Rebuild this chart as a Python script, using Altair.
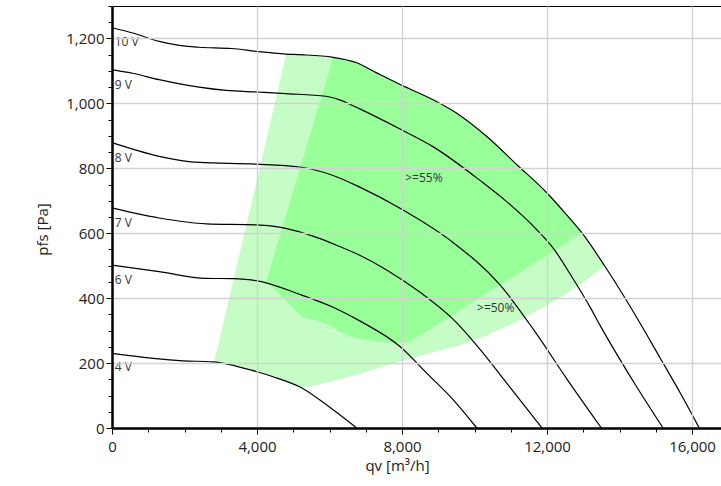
import altair as alt
import pandas as pd

# ---------------- data ----------------
curve_names = ["10 V", "9 V", "8 V", "7 V", "6 V", "4 V"]

q10 = [0, 600, 1300, 1900, 2400, 3300, 4000, 4800, 5200, 6100, 6750, 7300, 7950,
       8860, 9600, 10340, 11170, 12000, 12500, 12970, 13570, 14220, 15140, 15700, 16200]
p10 = [1233, 1216, 1191, 1178, 1173, 1169, 1160, 1152, 1150, 1142, 1125, 1094, 1058,
       1011, 963, 898, 811, 724, 662, 600, 503, 388, 212, 103, 0]

q9 = [0, 600, 1300, 2400, 3150, 4000, 4800, 5900, 6280, 6835, 7945, 8865, 10160,
      10805, 11725, 12185, 12650, 13200, 13480, 14400, 15200]
p9 = [1104, 1092, 1073, 1050, 1040, 1035, 1030, 1022, 1011, 983, 921, 866, 762,
      705, 610, 552, 472, 370, 313, 140, 0]

q8 = [0, 1300, 2410, 3975, 5175, 6100, 6835, 7945, 9330, 10710, 11635, 12555, 13500]
p8 = [879, 837, 818, 813, 804, 778, 742, 677, 578, 440, 302, 150, 0]

q7 = [0, 1300, 2600, 3975, 4620, 5700, 6280, 6835, 7575, 8500, 9400, 10220, 10710, 11030, 11860]
p7 = [678, 647, 629, 626, 619, 585, 559, 532, 487, 418, 336, 233, 164, 118, 0]

q6 = [0, 1300, 2590, 3330, 3975, 5175, 6100, 6835, 7945, 8680, 9420, 10065]
p6 = [502, 482, 461, 460, 454, 412, 372, 330, 251, 169, 86, 0]

q4 = [0, 1950, 2775, 3975, 4440, 5175, 6100, 6750]
p4 = [230, 207, 204, 174, 158, 127, 56, 0]

# efficiency zone >=50 % (light) : flow, lower and upper pressure edge
light_q = [2823, 3300, 3800, 4300, 4805, 5200, 5600, 6100, 6750, 7300, 7950, 8860,
           9600, 10340, 11170, 12000, 12500, 12970, 13600]
light_lo = [205, 196, 183, 163, 143, 124, 131, 145, 163, 183, 205, 233,
            255, 285, 328, 378, 411, 447, 498]
light_hi = [205, 432, 670, 907, 1152, 1150, 1146, 1142, 1125, 1094, 1058, 1011,
            963, 898, 811, 724, 662, 600, 498]

# efficiency zone >=55 % (dark)
dark_q = [4255, 4805, 5267, 5730, 6100, 6560, 6750, 7300, 7950, 8200, 8860, 9600,
          10340, 11170, 12000, 12500, 12950]
dark_lo = [451, 391, 340, 330, 309, 282, 277, 266, 262, 264, 310, 363,
           415, 473, 532, 567, 600]
dark_hi = [451, 657, 830, 1003, 1142, 1131, 1125, 1094, 1058, 1045, 1011, 963,
           898, 811, 724, 662, 600]

# curve labels
label_q = [75, 75, 75, 75, 75, 75]
label_p = [1189, 1058, 833, 632, 455, 187]

# zone labels
zone_text = [">=55%", ">=50%"]
zone_q = [8090, 10070]
zone_p = [769, 369]

x_ticks = [0, 4000, 8000, 12000, 16000]
y_ticks = [0, 200, 400, 600, 800, 1000, 1200]
x_minor_ticks = [1000, 2000, 3000, 5000, 6000, 7000, 9000, 10000, 11000, 13000, 14000, 15000]
y_minor_ticks = [v for v in range(50, 1301, 50) if v % 200 != 0]

# ---------------- tables ----------------
rows = []
for name, qs, ps in zip(curve_names, [q10, q9, q8, q7, q6, q4], [p10, p9, p8, p7, p6, p4]):
    for a, b in zip(qs, ps):
        rows.append({"curve": name, "qv": a, "pfs": b})
curves_df = pd.DataFrame(rows)
light_df = pd.DataFrame({"qv": light_q, "lo": light_lo, "hi": light_hi})
dark_df = pd.DataFrame({"qv": dark_q, "lo": dark_lo, "hi": dark_hi})
labels_df = pd.DataFrame({"txt": curve_names, "qv": label_q, "pfs": label_p})
zones_df = pd.DataFrame({"txt": zone_text, "qv": zone_q, "pfs": zone_p})

FONT = "Open Sans"
TXT = "#222222"
W, H = 609, 422
xs = alt.Scale(domain=[0, 16800], nice=False, zero=False)
ys = alt.Scale(domain=[0, 1300], nice=False, zero=False)

x_main = alt.Axis(orient="bottom", values=x_ticks, format=",d", tickSize=6, tickColor="black",
                  tickWidth=1, domainColor="black", domainWidth=2.5, grid=True,
                  gridColor="#d2d2d2", gridWidth=1.3, labelFont=FONT, labelFontSize=15,
                  labelColor=TXT, labelPadding=5, title="qv [m³/h]", titleFont=FONT,
                  titleFontSize=15, titleFontWeight="normal", titleColor=TXT, titleX=285,
                  titleY=30, titleBaseline="top", zindex=1, labelFlush=False,
                  labelOverlap=False)
x_minor = alt.Axis(orient="bottom", values=x_minor_ticks, tickSize=4, tickColor="black",
                   tickWidth=1, labels=False, domain=False, grid=False, title=None)
x_top = alt.Axis(orient="top", domainColor="black", domainWidth=1, ticks=False,
                 labels=False, grid=False, title=None)

y_main = alt.Axis(orient="left", values=y_ticks, format=",d", tickSize=6, tickColor="black",
                  tickWidth=1, domainColor="black", domainWidth=2.5, grid=True,
                  gridColor="#d2d2d2", gridWidth=1.3, labelFont=FONT, labelFontSize=15,
                  labelColor=TXT, labelPadding=2, title="pfs [Pa]", titleFont=FONT,
                  titleFontSize=15, titleFontWeight="normal", titleColor=TXT, titleX=-62,
                  titleY=223, titleAngle=270, titleBaseline="bottom", zindex=1,
                  labelFlush=False, labelOverlap=False)
y_minor = alt.Axis(orient="left", values=y_minor_ticks, tickSize=4, tickColor="black",
                   tickWidth=1, labels=False, domain=False, grid=False, title=None)

light = alt.Chart(light_df).mark_area(color="#c6fdc6", opacity=1).encode(
    x=alt.X("qv:Q", scale=xs, axis=x_main),
    y=alt.Y("lo:Q", scale=ys, axis=y_main),
    y2="hi:Q",
)
dark = alt.Chart(dark_df).mark_area(color="#99ff99", opacity=1).encode(
    x=alt.X("qv:Q", scale=xs, axis=x_minor),
    y=alt.Y("lo:Q", scale=ys, axis=y_minor),
    y2="hi:Q",
)
lines = alt.Chart(curves_df).mark_line(color="black", strokeWidth=1.2,
                                       interpolate="monotone").encode(
    x=alt.X("qv:Q", scale=xs, axis=x_top),
    y=alt.Y("pfs:Q", scale=ys, axis=None),
    detail="curve:N",
)
curve_labels = alt.Chart(labels_df).mark_text(align="left", baseline="middle", font=FONT,
                                              fontSize=12, color="#333333").encode(
    x=alt.X("qv:Q", scale=xs, axis=None),
    y=alt.Y("pfs:Q", scale=ys, axis=None),
    text="txt:N",
)
zone_labels = alt.Chart(zones_df).mark_text(align="left", baseline="middle", font=FONT,
                                            fontSize=12, color="#333333").encode(
    x=alt.X("qv:Q", scale=xs, axis=None),
    y=alt.Y("pfs:Q", scale=ys, axis=None),
    text="txt:N",
)

chart = alt.layer(light, dark, lines, curve_labels, zone_labels).resolve_axis(
    x="independent", y="independent"
).properties(
    width=W, height=H,
    autosize=alt.AutoSizeParams(type="none"),
    padding={"left": 112, "top": 6, "right": 0, "bottom": 58},
    background="white",
).configure_view(stroke=None)

chart.save("out.html", embed_options={"renderer": "svg", "actions": False})
